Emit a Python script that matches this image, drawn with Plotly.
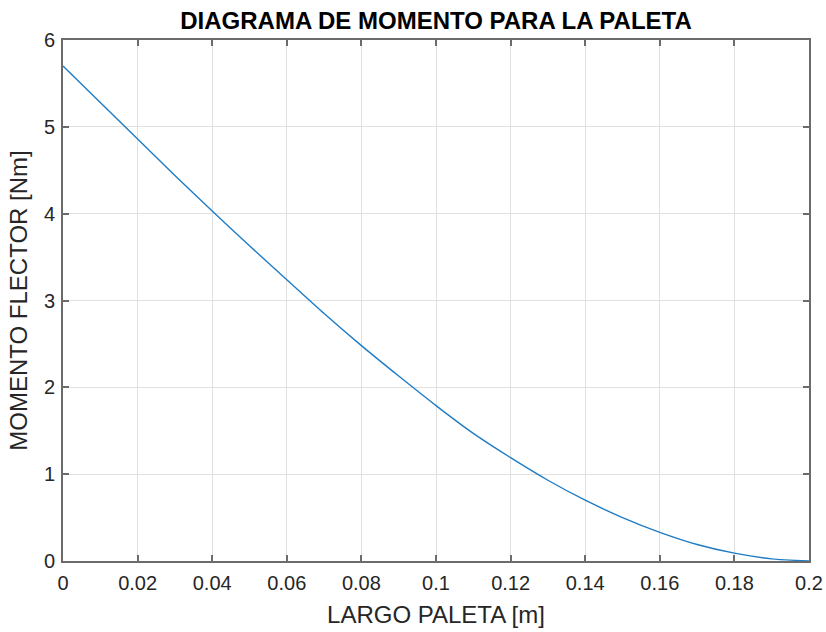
import plotly.graph_objects as go

# Data
largo = [0.00, 0.01, 0.02, 0.03, 0.04, 0.05, 0.06, 0.07, 0.08, 0.09, 0.10,
         0.11, 0.12, 0.13, 0.14, 0.15, 0.16, 0.17, 0.18, 0.19, 0.20]
momento = [5.70, 5.28, 4.86, 4.44, 4.03, 3.63, 3.24, 2.85, 2.48, 2.13, 1.79,
           1.47, 1.19, 0.93, 0.70, 0.50, 0.33, 0.19, 0.09, 0.025, 0.0]

x_tickvals = [0, 0.02, 0.04, 0.06, 0.08, 0.1, 0.12, 0.14, 0.16, 0.18, 0.2]
x_ticktext = ["0", "0.02", "0.04", "0.06", "0.08", "0.1", "0.12", "0.14", "0.16", "0.18", "0.2"]
y_tickvals = [0, 1, 2, 3, 4, 5, 6]
y_ticktext = ["0", "1", "2", "3", "4", "5", "6"]

title_text = "DIAGRAMA DE MOMENTO PARA LA PALETA"
x_title = "LARGO PALETA [m]"
y_title = "MOMENTO FLECTOR [Nm]"

FONT = "Liberation Sans, Arial, Helvetica, sans-serif"
AXIS_COLOR = "#6b6b6b"
TEXT_COLOR = "#262626"
GRID_COLOR = "#e0e0e0"

fig = go.Figure()
fig.add_trace(go.Scatter(
    x=largo, y=momento, mode="lines",
    line=dict(color="#1f7cc4", width=1.4, shape="spline", smoothing=0.6),
    showlegend=False, hoverinfo="x+y",
))

common_axis = dict(
    showline=True, linecolor=AXIS_COLOR, linewidth=2, mirror="ticks",
    ticks="inside", ticklen=6, tickwidth=1.5, tickcolor=AXIS_COLOR,
    showgrid=True, gridcolor=GRID_COLOR, gridwidth=1,
    zeroline=False,
    tickfont=dict(family=FONT, size=20, color=TEXT_COLOR),
)

fig.update_xaxes(
    range=[0, 0.2], tickvals=x_tickvals, ticktext=x_ticktext,
    title=dict(text=x_title, font=dict(family=FONT, size=24, color=TEXT_COLOR), standoff=13),
    ticklabelstandoff=3,
    **common_axis,
)
fig.update_yaxes(
    range=[0, 6], tickvals=y_tickvals, ticktext=y_ticktext,
    title=dict(text=y_title, font=dict(family=FONT, size=24, color=TEXT_COLOR), standoff=9),
    ticklabelstandoff=2,
    **common_axis,
)

fig.update_layout(
    width=826, height=632,
    margin=dict(l=63, r=17, t=40, b=71, autoexpand=False),
    paper_bgcolor="white", plot_bgcolor="white",
    title=dict(
        text="<b>" + title_text + "</b>",
        font=dict(family=FONT, size=24, color="#000000"),
        x=0.5, xanchor="center", xref="paper",
        y=0.967, yanchor="middle", yref="container",
    ),
)

fig.write_html(
    "out.html",
    config={"displayModeBar": False},
    post_script="document.body.style.margin='0';document.body.style.overflow='hidden';",
)
